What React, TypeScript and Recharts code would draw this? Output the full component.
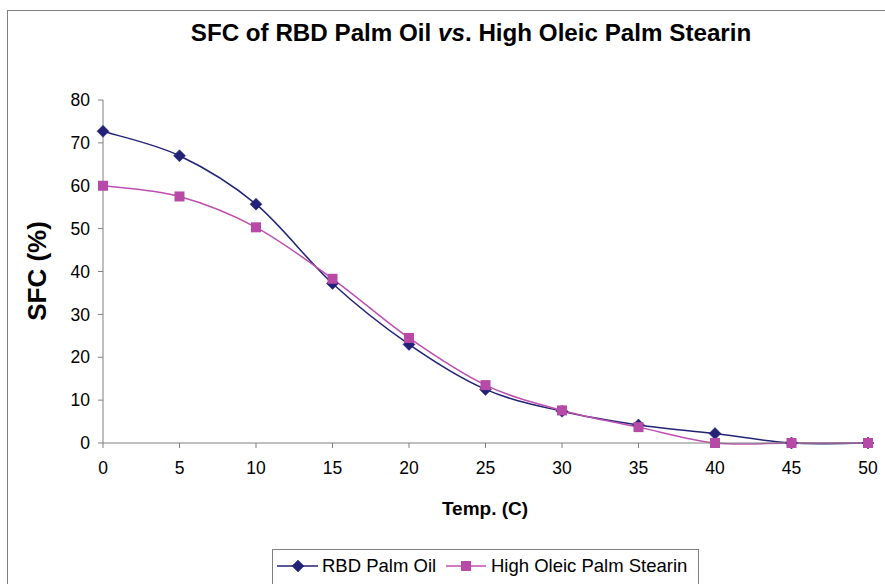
import React from 'react';
import { LineChart, Line, XAxis, YAxis, Customized } from 'recharts';

const temps = [0, 5, 10, 15, 20, 25, 30, 35, 40, 45, 50];
const rbdPalmOil = [72.7, 67.0, 55.7, 37.2, 23.0, 12.5, 7.4, 4.2, 2.2, 0, 0];
const highOleicStearin = [60.0, 57.5, 50.3, 38.3, 24.5, 13.5, 7.6, 3.7, 0, 0, 0];
const seriesNames = ['RBD Palm Oil', 'High Oleic Palm Stearin'];
const xTicks = [0, 5, 10, 15, 20, 25, 30, 35, 40, 45, 50];
const yTicks = [0, 10, 20, 30, 40, 50, 60, 70, 80];

const data = temps.map((t, i) => ({ t, rbd: rbdPalmOil[i], hops: highOleicStearin[i] }));

const NAVY = '#222279';
const PINK = '#BE4FB0';
const PINK_MARK = '#B64AA6';
const FONT = '"Liberation Sans", Arial, sans-serif';

// Excel-style smoothed line (Catmull-Rom with 1/6 control points)
const excelCurve: any = (context: any) => {
  let pts: [number, number][] = [];
  return {
    areaStart() {},
    areaEnd() {},
    lineStart() {
      pts = [];
    },
    point(x: number, y: number) {
      pts.push([+x, +y]);
    },
    lineEnd() {
      if (!pts.length) return;
      context.moveTo(pts[0][0], pts[0][1]);
      for (let i = 0; i < pts.length - 1; i++) {
        const p0 = pts[Math.max(i - 1, 0)];
        const p1 = pts[i];
        const p2 = pts[i + 1];
        const p3 = pts[Math.min(i + 2, pts.length - 1)];
        context.bezierCurveTo(
          p1[0] + (p2[0] - p0[0]) / 6,
          p1[1] + (p2[1] - p0[1]) / 6,
          p2[0] - (p3[0] - p1[0]) / 6,
          p2[1] - (p3[1] - p1[1]) / 6,
          p2[0],
          p2[1]
        );
      }
    },
  };
};

const Diamond = (props: any) => {
  const { cx, cy } = props;
  if (cx == null || cy == null) return null;
  const r = 6;
  return (
    <path
      key={`d-${cx}`}
      d={`M${cx},${cy - r}L${cx + r},${cy}L${cx},${cy + r}L${cx - r},${cy}Z`}
      fill={NAVY}
      stroke={NAVY}
      strokeWidth={0.5}
    />
  );
};

const Square = (props: any) => {
  const { cx, cy } = props;
  if (cx == null || cy == null) return null;
  const s = 5;
  return <rect key={`s-${cx}`} x={cx - s} y={cy - s} width={2 * s} height={2 * s} fill={PINK_MARK} />;
};

const Decorations = () => (
  <g>
    <text x={471} y={41} textAnchor="middle" fontFamily={FONT} fontWeight="bold" fontSize={24.2} fill="#000">
      SFC of RBD Palm Oil <tspan fontStyle="italic">vs</tspan>. High Oleic Palm Stearin
    </text>
    <text
      x={0}
      y={0}
      transform="translate(46,271) rotate(-90)"
      textAnchor="middle"
      fontFamily={FONT}
      fontWeight="bold"
      fontSize={26}
      fill="#000"
    >
      SFC (%)
    </text>
    <text x={485} y={515} textAnchor="middle" fontFamily={FONT} fontWeight="bold" fontSize={19} fill="#000">
      Temp. (C)
    </text>
    <rect x={272.5} y={549.5} width={426} height={60} fill="#fff" stroke="#808080" strokeWidth={1} />
    <line x1={277} y1={566} x2={318} y2={566} stroke={NAVY} strokeWidth={1.5} />
    <Diamond cx={298} cy={566} />
    <text x={322} y={572} fontFamily={FONT} fontSize={18.5} fill="#000">
      {seriesNames[0]}
    </text>
    <line x1={446} y1={566} x2={486} y2={566} stroke={PINK} strokeWidth={1.5} />
    <Square cx={466} cy={566} />
    <text x={491} y={572} fontFamily={FONT} fontSize={18.5} fill="#000">
      {seriesNames[1]}
    </text>
  </g>
);

export default function App() {
  return (
    <div style={{ position: 'absolute', left: 0, top: 0, width: 885, height: 584, overflow: 'hidden', background: '#fff' }}>
      <div
        style={{
          position: 'absolute',
          left: 7,
          top: 10,
          width: 900,
          height: 600,
          border: '1px solid #808080',
          boxSizing: 'border-box',
        }}
      />
      <div style={{ position: 'absolute', left: 0, top: 0 }}>
        <LineChart width={885} height={584} data={data} margin={{ top: 100, right: 17, bottom: 111, left: 0 }}>
          <XAxis
            dataKey="t"
            type="number"
            domain={[0, 50]}
            ticks={xTicks}
            interval={0}
            height={30}
            axisLine={{ stroke: '#808080' }}
            tickLine={{ stroke: '#808080' }}
            tickSize={5}
            tickMargin={14}
            tick={{ fill: '#000', fontSize: 17.5, fontFamily: FONT }}
          />
          <YAxis
            type="number"
            domain={[0, 80]}
            ticks={yTicks}
            interval={0}
            width={103}
            axisLine={{ stroke: '#808080' }}
            tickLine={{ stroke: '#808080' }}
            tickSize={5}
            tickMargin={8}
            tick={{ fill: '#000', fontSize: 17.5, fontFamily: FONT }}
          />
          <Line
            dataKey="rbd"
            name={seriesNames[0]}
            type={excelCurve}
            stroke={NAVY}
            strokeWidth={1.5}
            dot={<Diamond />}
            activeDot={false}
            isAnimationActive={false}
          />
          <Line
            dataKey="hops"
            name={seriesNames[1]}
            type={excelCurve}
            stroke={PINK}
            strokeWidth={1.5}
            dot={<Square />}
            activeDot={false}
            isAnimationActive={false}
          />
          <Customized component={Decorations} />
        </LineChart>
      </div>
    </div>
  );
}
